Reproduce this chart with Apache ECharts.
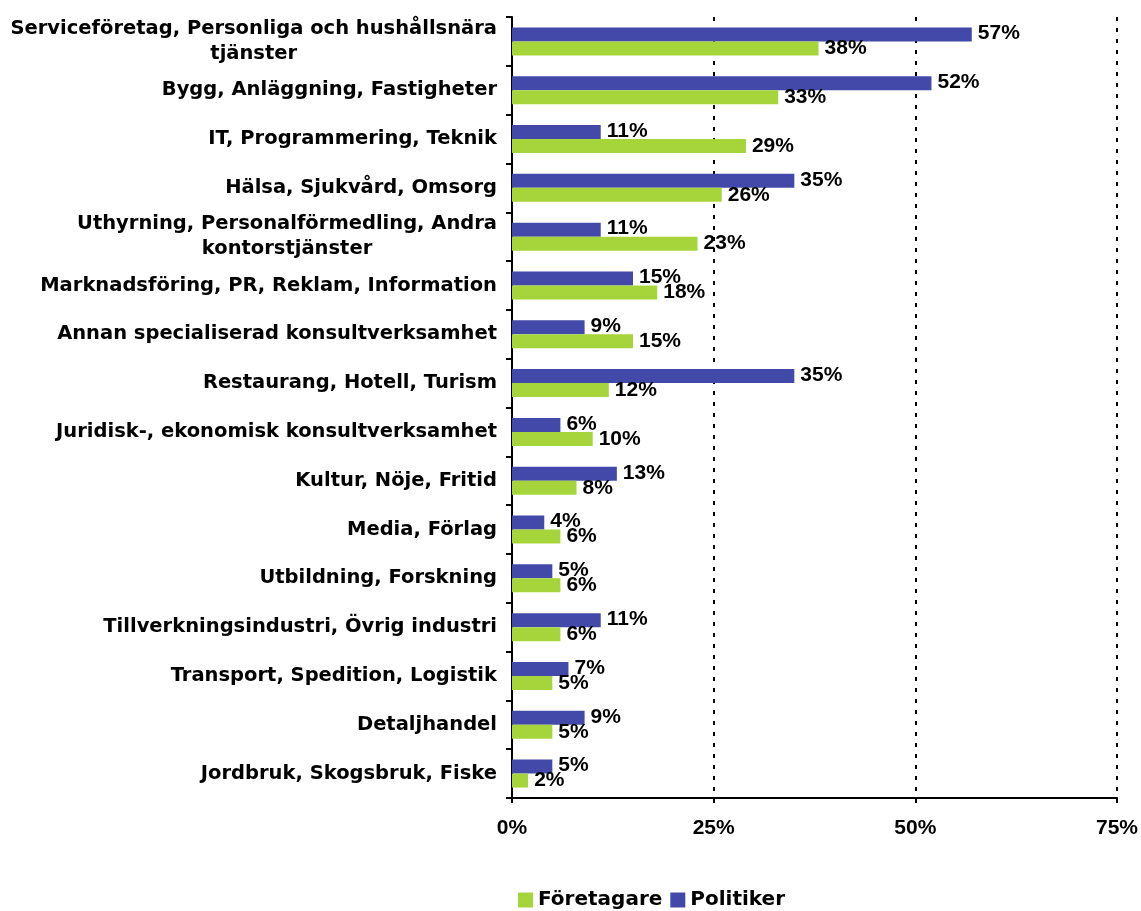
<!DOCTYPE html>
<html>
<head>
<meta charset="utf-8">
<script src="https://cdn.jsdelivr.net/npm/echarts@6/dist/echarts.min.js"></script>
<style>html,body{margin:0;padding:0;background:#fff;}#c{width:1141px;height:911px;}</style>
</head>
<body>
<div id="c"></div>
<script>
const categories = [
  "Serviceföretag, Personliga och hushållsnära\ntjänster",
  "Bygg, Anläggning, Fastigheter",
  "IT, Programmering, Teknik",
  "Hälsa, Sjukvård, Omsorg",
  "Uthyrning, Personalförmedling, Andra\nkontorstjänster",
  "Marknadsföring, PR, Reklam, Information",
  "Annan specialiserad konsultverksamhet",
  "Restaurang, Hotell, Turism",
  "Juridisk-, ekonomisk konsultverksamhet",
  "Kultur, Nöje, Fritid",
  "Media, Förlag",
  "Utbildning, Forskning",
  "Tillverkningsindustri, Övrig industri",
  "Transport, Spedition, Logistik",
  "Detaljhandel",
  "Jordbruk, Skogsbruk, Fiske"
];
const politiker = [57, 52, 11, 35, 11, 15, 9, 35, 6, 13, 4, 5, 11, 7, 9, 5];
const foretagare = [38, 33, 29, 26, 23, 18, 15, 12, 10, 8, 6, 6, 6, 5, 5, 2];
const xTicks = [0, 25, 50, 75];

const chart = echarts.init(document.getElementById('c'), null, {renderer: 'canvas'});
const catFont = {fontFamily: 'DejaVu Sans', fontWeight: 'bold', fontSize: 19.5, color: '#000', lineHeight: 25};
const valFont = {fontFamily: 'Liberation Sans', fontWeight: 'bold', fontSize: 21, color: '#000'};
chart.setOption({
  animation: false,
  backgroundColor: '#fff',
  legend: {
    data: ['Företagare', 'Politiker'],
    top: 885,
    left: 513,
    itemWidth: 15,
    itemHeight: 15,
    itemGap: 8,
    icon: 'rect',
    textStyle: {fontFamily: 'DejaVu Sans', fontWeight: 'bold', fontSize: 20, color: '#000'}
  },
  grid: {left: 512, right: 23, top: 17, bottom: 113, containLabel: false},
  xAxis: {
    type: 'value', min: xTicks[0], max: xTicks[xTicks.length - 1], interval: xTicks[1] - xTicks[0],
    axisLine: {show: true, lineStyle: {color: '#000', width: 2}},
    axisTick: {show: true, length: 5, lineStyle: {color: '#000', width: 2}},
    axisLabel: {formatter: v => v + '%', margin: 20, fontFamily: 'Liberation Sans', fontWeight: 'bold', fontSize: 21, color: '#000'},
    splitLine: {show: true, lineStyle: {color: '#000', width: 2, type: [4, 7]}}
  },
  yAxis: {
    type: 'category', inverse: true, data: categories,
    axisLine: {show: true, lineStyle: {color: '#000', width: 2}},
    axisTick: {show: true, length: 6, lineStyle: {color: '#000', width: 2}},
    axisLabel: {
      margin: 15,
      formatter: v => v.split('\n').map(s => '{c|' + s + '}').join('\n'),
      rich: {c: Object.assign({align: 'center'}, catFont)}
    }
  },
  series: [
    {
      name: 'Politiker', type: 'bar', data: politiker,
      barWidth: 14, barGap: '0%',
      itemStyle: {color: '#4349A9'},
      label: Object.assign({show: true, position: 'right', distance: 6, offset: [0, -1], formatter: '{c}%'}, valFont)
    },
    {
      name: 'Företagare', type: 'bar', data: foretagare,
      barWidth: 14, barGap: '0%',
      itemStyle: {color: '#A5D53B'},
      label: Object.assign({show: true, position: 'right', distance: 6, formatter: '{c}%'}, valFont)
    }
  ]
});
</script>
</body>
</html>
